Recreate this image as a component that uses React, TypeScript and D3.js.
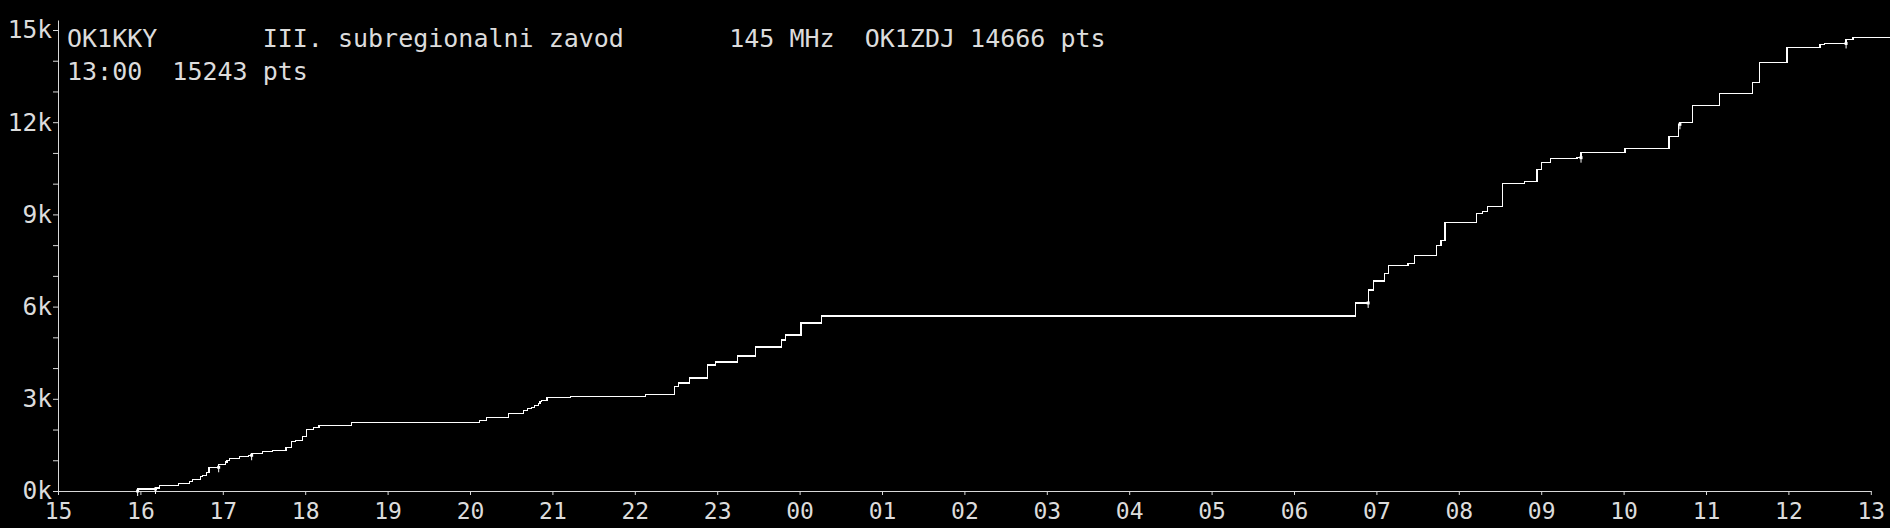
import React from "react";
import {
  select,
  scaleLinear,
  axisLeft,
  axisBottom,
  line,
  curveStepAfter,
  range,
  bisectLeft,
} from "d3";

// clock times of each score change and the running total after it
const times = [
  "15:58", "16:11", "16:14", "16:28", "16:36", "16:38", "16:44", "16:45", "16:48", "16:50",
  "16:57", "17:02", "17:03", "17:05", "17:12", "17:19", "17:21", "17:29", "17:36", "17:46",
  "17:50", "17:53", "17:58", "18:01", "18:06", "18:10", "18:34", "20:07", "20:12", "20:28",
  "20:39", "20:42", "20:45", "20:47", "20:50", "20:51", "20:52", "20:56", "21:13", "22:08",
  "22:29", "22:32", "22:40", "22:53", "22:59", "23:15", "23:28", "23:47", "23:50", "00:01",
  "00:16", "06:45", "06:54", "06:58", "07:06", "07:09", "07:23", "07:28", "07:44", "07:47",
  "07:50", "08:13", "08:17", "08:21", "08:32", "08:48", "08:57", "09:00", "09:07", "09:26",
  "09:29", "10:01", "10:33", "10:40", "10:41", "10:50", "11:10", "11:34", "11:39", "11:59",
  "12:23", "12:26", "12:42", "12:47",
];
const scores = [
  65, 98, 185, 250, 316, 381, 467, 511, 609, 772,
  870, 945, 1000, 1066, 1131, 1163, 1229, 1294, 1327, 1425,
  1620, 1653, 1783, 2011, 2077, 2142, 2240, 2305, 2403, 2533,
  2631, 2696, 2729, 2794, 2859, 2924, 2957, 3055, 3087, 3152,
  3413, 3511, 3674, 4098, 4196, 4391, 4685, 4913, 5076, 5467,
  5695, 6119, 6543, 6836, 7065, 7326, 7391, 7652, 7978, 8141,
  8727, 9020, 9085, 9249, 9998, 10064, 10455, 10683, 10813, 10846,
  11009, 11139, 11530, 11932, 11987, 12551, 12932, 13291, 13943, 14432,
  14530, 14562, 14693, 14758,
];
// small markers drawn on the line
const markTimes = ["15:58", "16:11", "16:57", "17:21", "06:54", "09:29", "10:41", "12:42"];

const hourLabels = [
  "15", "16", "17", "18", "19", "20", "21", "22", "23", "00", "01", "02",
  "03", "04", "05", "06", "07", "08", "09", "10", "11", "12", "13",
];
const yMajor = [0, 3000, 6000, 9000, 12000, 15000];
const yMinor = range(0, 15001, 1000);

const titleLine1 = "OK1KKY       III. subregionalni zavod       145 MHz  OK1ZDJ 14666 pts";
const titleLine2 = "13:00  15243 pts";

const W = 1890;
const H = 528;
const FONT = "'DejaVu Sans Mono', monospace";

const toHours = (s: string) => {
  const [h, m] = s.split(":").map(Number);
  let t = h - 15 + m / 60;
  if (t < 0) t += 24;
  return t;
};

export default function App() {
  const svgRef = React.useRef<SVGSVGElement>(null);

  React.useLayoutEffect(() => {
    document.body.style.margin = "0";
    document.body.style.background = "#000";
    const svg = select(svgRef.current);

    const x = scaleLinear().domain([0, hourLabels.length - 1]).range([58, 1870.8]);
    const y = scaleLinear().domain([0, 15000]).range([491, 30]);
    const yAxisTop = 20;
    const yAxisScale = y.copy().domain([0, y.invert(yAxisTop)]).range([y(0), yAxisTop]);

    // x axis
    const gx = svg
      .append("g")
      .attr("transform", `translate(0,${y(0)})`)
      .call(
        axisBottom(x)
          .tickValues(range(hourLabels.length))
          .tickFormat((d) => hourLabels[+d])
          .tickSize(4)
          .tickSizeOuter(0)
          .tickPadding(7.5)
      );
    gx.attr("font-size", 23);

    // y axis
    const gy = svg
      .append("g")
      .attr("transform", `translate(${x(0)},0)`)
      .call(
        axisLeft(yAxisScale)
          .tickValues(yMinor)
          .tickFormat((d) => (yMajor.includes(+d) ? `${+d / 1000}k` : ""))
          .tickSize(5)
          .tickSizeOuter(0)
          .tickPadding(1)
      );
    gy.attr("font-size", 24.5);

    [gx, gy].forEach((g) => {
      g.attr("font-family", FONT);
      g.selectAll("path, line").attr("stroke", "#d8d8d8");
      g.selectAll("text").attr("fill", "#dcdcdc");
    });

    // score line
    const hrs = times.map(toHours);
    const pts: [number, number][] = hrs.map((t, i) => [x(t), y(scores[i])]);
    pts.unshift([x(hrs[0]), y(0)]);
    pts.push([W, y(scores[scores.length - 1])]);

    svg
      .append("path")
      .attr("d", line().curve(curveStepAfter)(pts))
      .attr("fill", "none")
      .attr("stroke", "#fff")
      .attr("stroke-width", 1.2)
      .attr("shape-rendering", "crispEdges");

    const marks = markTimes.map((m) => {
      const t = toHours(m);
      const i = bisectLeft(hrs, t);
      return { x: x(t), y: y(i > 0 ? scores[i - 1] : 0) };
    });

    const gm = svg.append("g").attr("class", "marks");
    gm.selectAll("rect")
      .data(marks)
      .join("rect")
      .attr("x", (d) => d.x - 1.5)
      .attr("y", (d) => d.y - 1.5)
      .attr("width", 3)
      .attr("height", 3)
      .attr("fill", "#fff");
    gm.selectAll("line")
      .data(marks)
      .join("line")
      .attr("x1", (d) => d.x)
      .attr("x2", (d) => d.x)
      .attr("y1", (d) => d.y)
      .attr("y2", (d) => d.y + 5)
      .attr("stroke", "#fff")
      .attr("stroke-width", 1);

    return () => {
      svg.selectAll("g, path").remove();
    };
  }, []);

  return (
    <svg
      ref={svgRef}
      width={W}
      height={H}
      style={{ position: "absolute", left: 0, top: 0, display: "block", background: "#000" }}
    >
      <rect width={W} height={H} fill="#000" />
      <text
        x={67}
        y={46.5}
        fill="#dcdcdc"
        fontFamily={FONT}
        fontSize={25}
        style={{ whiteSpace: "pre" }}
      >
        {titleLine1}
      </text>
      <text
        x={67}
        y={79.5}
        fill="#dcdcdc"
        fontFamily={FONT}
        fontSize={25}
        style={{ whiteSpace: "pre" }}
      >
        {titleLine2}
      </text>
    </svg>
  );
}
